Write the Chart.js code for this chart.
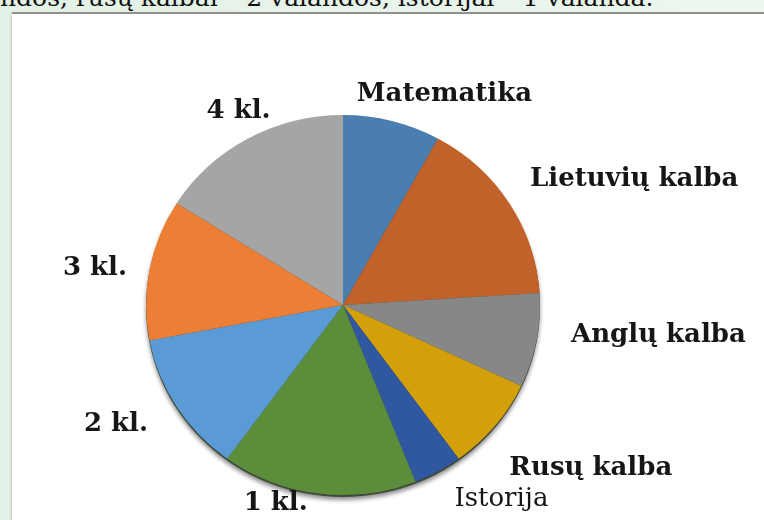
<!DOCTYPE html>
<html>
<head>
<meta charset="utf-8">
<script src="https://cdn.jsdelivr.net/npm/chart.js@4.4.1/dist/chart.umd.min.js"></script>
<style>
  html, body { margin:0; padding:0; width:764px; height:520px; overflow:hidden; }
  body { background: linear-gradient(90deg, #e3f1e6 0%, #edf6ef 100%); position:relative; font-family:"DejaVu Serif", serif; }
  #caption { position:absolute; left:0; top:-17px; font-family:"DejaVu Serif", serif; font-size:25px; line-height:30px; color:#111; white-space:nowrap; }
  #panel { position:absolute; left:12px; top:12px; right:0; bottom:0; background:#fff; border-top:2px solid #8f918f; box-shadow: -1px 1px 2px rgba(0,0,0,0.15); }
  #wrap { position:absolute; left:0; top:0; width:764px; height:520px; }
</style>
</head>
<body>
<div id="caption">ndos, rusų kalbai – 2 valandos, istorijai – 1 valanda.</div>
<div id="panel"></div>
<div id="wrap"><canvas id="c" width="764" height="520"></canvas></div>
<script>
const categories = ["Matematika", "Lietuvių kalba", "Anglų kalba", "Rusų kalba", "Istorija", "1 kl.", "2 kl.", "3 kl.", "4 kl."];
const hours = [2, 4, 2, 2, 1, 4, 3, 3, 4];
const sliceColors = ["#4a7db0", "#c0622a", "#878787", "#d3a00a", "#2f58a0", "#5b8d3b", "#5b9bd5", "#ec7e36", "#a5a5a5"];
const labelBold = [true, true, true, true, false, true, true, true, true];

// slight vertical flattening of the pie face (tilted look of the original)
const TILT = 0.9645;

const tiltPlugin = {
  id: 'pieTilt',
  beforeDatasetsDraw(chart) {
    const arc = chart.getDatasetMeta(0).data[0];
    const ctx = chart.ctx;
    ctx.save();
    if (!arc) return;
    ctx.translate(arc.x, arc.y);
    ctx.scale(1, TILT);
    ctx.translate(-arc.x, -arc.y);
    ctx.save();
    ctx.shadowColor = 'rgba(0,0,0,0.45)';
    ctx.shadowBlur = 4;
    ctx.shadowOffsetY = 3;
    ctx.fillStyle = '#3f4a3a';
    ctx.beginPath();
    ctx.arc(arc.x, arc.y + 2, arc.outerRadius, 0, Math.PI * 2);
    ctx.fill();
    ctx.restore();
  },
  afterDatasetsDraw(chart) {
    chart.ctx.restore();
  }
};

const labelPlugin = {
  id: 'outsideLabels',
  afterDatasetsDraw(chart, args, opts) {
    const ctx = chart.ctx;
    const meta = chart.getDatasetMeta(0);
    const nudge = opts.nudge || [];
    const s = v => Math.max(-1, Math.min(1, v * 2.5));
    ctx.save();
    ctx.fillStyle = '#161616';
    ctx.textAlign = 'center';
    ctx.textBaseline = 'middle';
    meta.data.forEach((arc, i) => {
      const m = (arc.startAngle + arc.endAngle) / 2;
      const px = arc.x + (arc.outerRadius + opts.gapX) * Math.cos(m);
      const py = arc.y + (arc.outerRadius * TILT + opts.gapY) * Math.sin(m);
      ctx.font = (labelBold[i] ? 'bold ' : '') + opts.size + 'px "DejaVu Serif"';
      const w = ctx.measureText(categories[i]).width;
      const h = opts.size;
      const n = nudge[i] || [0, 0];
      let cx = px + (w / 2) * s(Math.cos(m)) + n[0];
      let cy = py + (h / 2) * s(Math.sin(m)) + n[1];
      cy = Math.min(cy, chart.height - h / 2 - 4);
      cx = Math.min(cx, chart.width - w / 2 - 4);
      ctx.fillText(categories[i], cx, cy);
    });
    ctx.restore();
  }
};

new Chart(document.getElementById('c'), {
  type: 'pie',
  data: {
    labels: categories,
    datasets: [{
      data: hours,
      backgroundColor: sliceColors,
      borderWidth: 0
    }]
  },
  options: {
    responsive: false,
    animation: false,
    layout: { padding: { left: 146, right: 224, top: 108, bottom: 18 } },
    plugins: {
      legend: { display: false }, tooltip: { enabled: false }, title: { display: false },
      outsideLabels: {
        size: 26, gapX: 28, gapY: 10,
        nudge: [[-9, -4], [-3, -6], [7, -13], [-7, 23], [3, 6], [-29, 9], [-5, -1], [5, 7], [36, -5]]
      }
    }
  },
  plugins: [tiltPlugin, labelPlugin]
});
</script>
</body>
</html>
